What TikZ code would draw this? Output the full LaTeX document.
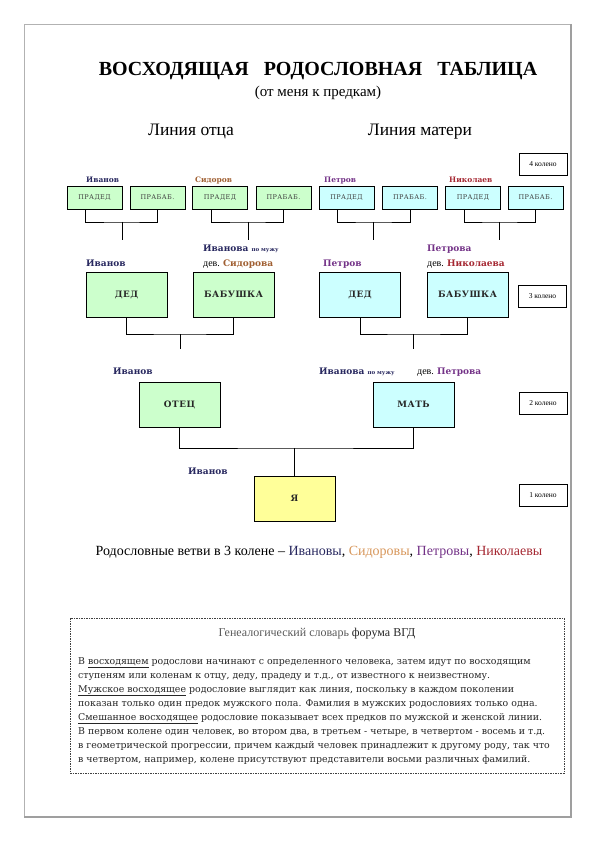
\documentclass[tikz,border=0pt]{standalone}
\usepackage{fontspec}
\setmainfont{Liberation Serif}
\newfontfamily\wideserif{DejaVu Serif}
\newfontfamily\boxserif[LetterSpace=6]{DejaVu Serif}

\definecolor{ivanovcol}{RGB}{40,40,95}
\definecolor{sidorovcol}{RGB}{160,95,50}
\definecolor{sidorovlight}{RGB}{215,150,90}
\definecolor{petrovcol}{RGB}{115,50,135}
\definecolor{nikolaevcol}{RGB}{165,40,50}
\definecolor{greenbox}{RGB}{204,255,204}
\definecolor{cyanbox}{RGB}{204,255,255}
\definecolor{yellowbox}{RGB}{255,255,153}

\begin{document}
\begin{tikzpicture}[x=1pt,y=-1pt]
\tikzset{
  smallbox/.style={draw,line width=0.8pt,minimum width=55pt,minimum height=23pt,inner sep=0pt,font=\boxserif\fontsize{6.5}{8}\selectfont,text=black!75},
  bigbox/.style={draw,line width=0.8pt,minimum width=81pt,minimum height=45pt,inner sep=0pt,font=\boxserif\bfseries\fontsize{8.8}{10}\selectfont,text=black!85},
  kolenobox/.style={draw,line width=0.8pt,fill=white,minimum width=48pt,minimum height=22pt,inner sep=0pt,font=\fontsize{7.5}{9}\selectfont},
  namelabel/.style={anchor=base west,inner sep=0pt,font=\wideserif\bfseries\fontsize{7.5}{9}\selectfont},
  biglabel/.style={namelabel,font=\wideserif\bfseries\fontsize{9}{10}\selectfont},
  link/.style={line width=0.9pt}
}
\newcommand\devtext{{\normalfont\fontsize{10}{11}\selectfont дев.}}
\newcommand\pomuzhu{{\fontsize{5.5}{6}\selectfont по мужу}}
\useasboundingbox (0,0) rectangle (595,842);
% page frame
\draw[gray!60,line width=0.8pt] (24,24) rectangle (571,817);
\draw[gray!75,line width=1.4pt] (571,24) -- (571,817) -- (24,817);

% headings
\node[inner sep=0pt,anchor=base,font=\bfseries\fontsize{20}{24}\selectfont] (n_title) at (318,76)
  {ВОСХОДЯЩАЯ\hspace{15pt}РОДОСЛОВНАЯ\hspace{15pt}ТАБЛИЦА};
\node[inner sep=0pt,anchor=base,font=\fontsize{15}{17}\selectfont] (n_sub) at (318,97) {(от меня к предкам)};
\node[inner sep=0pt,anchor=base,font=\fontsize{17.5}{20}\selectfont] (n_fline) at (191,136) {Линия отца};
\node[inner sep=0pt,anchor=base,font=\fontsize{17.5}{20}\selectfont] (n_mline) at (420,136) {Линия матери};

% 4 колено
\node[smallbox,fill=greenbox] (n_pd1) at (94.5,197.5) {ПРАДЕД};
\node[smallbox,fill=greenbox] (n_pb1) at (157.5,197.5) {ПРАБАБ.};
\node[smallbox,fill=greenbox] (n_pd2) at (220,197.5) {ПРАДЕД};
\node[smallbox,fill=greenbox] (n_pb2) at (283.5,197.5) {ПРАБАБ.};
\node[smallbox,fill=cyanbox] (n_pd3) at (346.5,197.5) {ПРАДЕД};
\node[smallbox,fill=cyanbox] (n_pb3) at (410,197.5) {ПРАБАБ.};
\node[smallbox,fill=cyanbox] (n_pd4) at (473,197.5) {ПРАДЕД};
\node[smallbox,fill=cyanbox] (n_pb4) at (535.5,197.5) {ПРАБАБ.};
\node[namelabel,text=ivanovcol] (n_l4a) at (86,183) {Иванов};
\node[namelabel,text=sidorovcol] (n_l4b) at (195,183) {Сидоров};
\node[namelabel,text=petrovcol] (n_l4c) at (324,183) {Петров};
\node[namelabel,text=nikolaevcol] (n_l4d) at (449,183) {Николаев};
\node[kolenobox] (n_k4) at (543,164) {4 колено};

% 3 колено
\node[bigbox,fill=greenbox] (n_d1) at (126.5,294.5) {ДЕД};
\node[bigbox,fill=greenbox] (n_b1) at (233.5,294.5) {БАБУШКА};
\node[bigbox,fill=cyanbox] (n_d2) at (360,294.5) {ДЕД};
\node[bigbox,fill=cyanbox] (n_b2) at (467.5,294.5) {БАБУШКА};
\node[biglabel,text=ivanovcol] (n_l3a) at (86,266) {Иванов};
\node[biglabel,text=ivanovcol] (n_l3b) at (203,251) {Иванова \pomuzhu};
\node[biglabel] (n_l3c) at (203,266) {\devtext\ \textcolor{sidorovcol}{Сидорова}};
\node[biglabel,text=petrovcol] (n_l3d) at (323,266) {Петров};
\node[biglabel,text=petrovcol] (n_l3e) at (427,251) {Петрова};
\node[biglabel] (n_l3f) at (427,266) {\devtext\ \textcolor{nikolaevcol}{Николаева}};
\node[kolenobox] (n_k3) at (542.5,296) {3 колено};

% 2 колено
\node[bigbox,fill=greenbox] (n_otec) at (179.5,404.5) {ОТЕЦ};
\node[bigbox,fill=cyanbox] (n_mat) at (413.5,404.5) {МАТЬ};
\node[biglabel,text=ivanovcol] (n_l2a) at (113,374) {Иванов};
\node[biglabel,text=ivanovcol] (n_l2b) at (319,374) {Иванова \pomuzhu};
\node[biglabel] (n_l2c) at (417,374) {\devtext\ \textcolor{petrovcol}{Петрова}};
\node[kolenobox] (n_k2) at (543,403) {2 колено};

% 1 колено
\node[bigbox,fill=yellowbox] (n_me) at (294.5,498.5) {Я};
\node[biglabel,text=ivanovcol] (n_l1a) at (188,474) {Иванов};
\node[kolenobox] (n_k1) at (543,495.5) {1 колено};

% brackets
\coordinate (n_j4a) at (122,222);
\coordinate (n_j4b) at (248,222);
\coordinate (n_j4c) at (373.5,222);
\coordinate (n_j4d) at (499.5,222);
\draw[link] ([xshift=-9pt]n_pd1.south) |- (n_j4a) -| (n_pb1.south);
\draw[link] ([xshift=-9pt]n_pd2.south) |- (n_j4b) -| (n_pb2.south);
\draw[link] ([xshift=-9pt]n_pd3.south) |- (n_j4c) -| (n_pb3.south);
\draw[link] ([xshift=-9pt]n_pd4.south) |- (n_j4d) -| (n_pb4.south);
\draw[link] (n_j4a) -- ++(0,18);
\draw[link] (n_j4b) -- ++(0,18);
\draw[link] (n_j4c) -- ++(0,18);
\draw[link] (n_j4d) -- ++(0,18);

\coordinate (n_j3a) at (180,334);
\coordinate (n_j3b) at (413.75,334);
\draw[link] (n_d1.south) |- (n_j3a) -| (n_b1.south);
\draw[link] (n_d2.south) |- (n_j3b) -| (n_b2.south);
\draw[link] (n_j3a) -- ++(0,15);
\draw[link] (n_j3b) -- ++(0,15);

\coordinate (n_j2) at (294.5,448);
\draw[link] (n_otec.south) |- (n_j2) -| (n_mat.south);
\draw[link] (n_j2) -- (n_me.north);

% summary line
\node[inner sep=0pt,anchor=base,font=\fontsize{14}{16}\selectfont] (n_sum) at (319,555)
  {Родословные ветви в 3 колене – \textcolor{ivanovcol}{Ивановы}, \textcolor{sidorovlight}{Сидоровы}, \textcolor{petrovcol}{Петровы}, \textcolor{nikolaevcol}{Николаевы}};

% glossary
\draw[gray!50!black,line width=0.6pt,dash pattern=on 1.5pt off 1pt] (70,618) rectangle (564,773);
\node[inner sep=0pt,anchor=base,font=\fontsize{12}{14}\selectfont,text=black!65] (n_ghead) at (317,636)
  {Генеалогический словарь \textcolor{black!85}{форума ВГД}};
\node[inner sep=0pt,anchor=north west,align=left,font=\wideserif\fontsize{9.4}{14}\selectfont,text=black!85] (n_gtext) at (78,657)
  {В \underline{восходящем} родослови начинают с определенного человека, затем идут по восходящим\\
   ступеням или коленам к отцу, деду, прадеду и т.д., от известного к неизвестному.\\
   \underline{Мужское восходящее} родословие выглядит как линия, поскольку в каждом поколении\\
   показан только один предок мужского пола. Фамилия в мужских родословиях только одна.\\
   \underline{Смешанное восходящее} родословие показывает всех предков по мужской и женской линии.\\
   В первом колене один человек, во втором два, в третьем - четыре, в четвертом - восемь и т.д.\\
   в геометрической прогрессии, причем каждый человек принадлежит к другому роду, так что\\
   в четвертом, например, колене присутствуют представители восьми различных фамилий.};
\end{tikzpicture}
\end{document}
